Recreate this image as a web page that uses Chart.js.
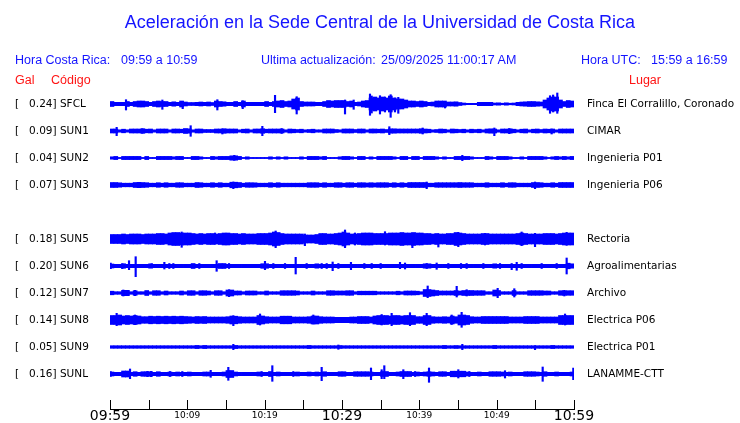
<!DOCTYPE html>
<html><head><meta charset="utf-8">
<script src="https://cdn.jsdelivr.net/npm/chart.js@4.4.1/dist/chart.umd.min.js"></script>
<style>
html,body{margin:0;padding:0;background:#fff;}
#wrap{position:relative;width:740px;height:423px;overflow:hidden;background:#fff;}
#c{position:absolute;left:0;top:0;}
.t{position:absolute;white-space:pre;font-family:"Liberation Sans",Arial,sans-serif;line-height:1;}
.b{color:#1414ff;font-size:12.5px;}
.r{color:#ff1414;font-size:12.5px;}
</style></head><body>
<div id="wrap">
<canvas id="c" width="740" height="423"></canvas>
<div class="t" style="left:0;width:760px;text-align:center;top:13px;font-size:18px;color:#1414ff">Aceleración en la Sede Central de la Universidad de Costa Rica</div>
<div class="t b" style="left:15px;top:54px">Hora Costa Rica:</div>
<div class="t b" style="left:121px;top:54px">09:59 a 10:59</div>
<div class="t b" style="left:261px;top:54px">Ultima actualización:</div>
<div class="t b" style="left:381px;top:54px">25/09/2025 11:00:17 AM</div>
<div class="t b" style="left:581px;top:54px">Hora UTC:</div>
<div class="t b" style="left:651px;top:54px">15:59 a 16:59</div>
<div class="t r" style="left:15px;top:74px">Gal</div>
<div class="t r" style="left:51px;top:74px">Código</div>
<div class="t r" style="left:629px;top:74px">Lugar</div>
</div>
<script>
// ---- data ----
const tickLabels = ['09:59','10:09','10:19','10:29','10:39','10:49','10:59'];
const codes  = ['SFCL','SUN1','SUN2','SUN3','SUN5','SUN6','SUN7','SUN8','SUN9','SUNL'];
const gal    = ['0.24','0.09','0.04','0.07','0.18','0.20','0.12','0.14','0.05','0.16'];
const places = ['Finca El Corralillo, Coronado','CIMAR','Ingenieria P01','Ingenieria P06','Rectoria','Agroalimentarias','Archivo','Electrica P06','Electrica P01','LANAMME-CTT'];
const rowIndex = [0,1,2,3,5,6,7,8,9,10];

// half-amplitude envelopes, one value per 30 s
const env_SFCL = [2.5,1.7,1.7,1.7,2.5,1.7,2.5,3,3,2.5, 1.7,2.5,3,2.5,2.5,1.7,2.2,1.7,3,2, 1.5,1.5,1.7,2,1.7,2,1.5,3,2.5,2.2, 1.7,1.7,2.5,1.7,3,1.7,1.7,1.7,1.7,1.7, 2.5,1.7,2.5,3,3.5,2.5,3,5,6,2.5, 2,2,2,1.7,1.7,2.5,3.5,3,3.5,3.5, 3.5,2.5,3,1.7,2,3,3.5,6,7,6, 7,6,8,6,5,5,4,3,3,2.5, 3,2.5,1.7,2,3,3,3,2,2,2.2, 1.5,1,0.7,0.7,0.7,1.7,1.7,1.7,1.7,1, 1.2,0.8,1.2,0.8,1,1.7,2,2.2,2.5,2.5, 2.2,2,4,6,7,7,4,2.5,3.5,3];
const env_SUN1 = [2,2,1.2,1.8,1.2,2,2,2,2.3,1.8, 2,1.2,2,2,2,1.2,2,2,1.8,2.5, 2.2,1.2,2,2,1.5,1.5,1.5,2,2,2.3, 2,2,2,1.2,1.8,2,1.2,2,2,2.3, 1.8,2,2,2,2,1.2,2,1.8,1.5,1.8, 1.2,1.5,1.8,1.2,1.2,2,2,2,1.5,1.2, 2,2,2,1.5,2,2,1.2,2,2,1.8, 2,1.5,2.2,2.2,2,2,2,2,2,2, 2.3,2,1.8,1.2,1.5,2,1.8,1.2,2,1.8, 1.5,1.8,1.2,1.8,1.5,1.8,1.2,2,2.2,2, 1.2,2,2,2.2,1.8,1.2,1.8,2,1.2,1.8, 2,1.5,2,1.8,2,1.2,2,2,2,2];
const env_SUN2 = [1.2,1.6,0.6,1.6,1.6,1.6,1.6,1.6,0.6,1.6, 0.6,0.6,1.6,1.6,1.6,1.6,1.2,1.6,1.6,0.6, 0.6,1.6,1.6,1.2,0.6,0.6,1.6,1.2,1.6,1.6, 1.6,2.2,2.2,1.6,0.6,1.2,0.6,0.6,0.6,0.6, 0.6,1.2,0.6,1.2,0.6,1.2,0.6,0.6,0.6,1.2, 0.6,1.6,1.6,1.6,1.2,1.6,0.6,0.6,0.6,1.2, 1.6,1.6,1.2,0.6,1.6,1.6,0.6,1.2,0.6,1.6, 1.6,1.6,1.6,1.2,0.6,1.6,1.6,0.6,1.6,1.6, 0.6,1.6,1.6,1.6,1.2,0.6,1.2,0.6,0.6,1.6, 1.6,1.6,1.6,1.2,0.6,0.6,0.6,1.6,1.2,0.6, 1.6,1.6,1.6,1.2,0.6,0.6,1.2,0.6,1.6,1.6, 1.6,1.6,1.2,0.6,1.2,1.6,1.2,1.6,1.2,1.6];
const env_SUN3 = [2.5,2.5,2.2,1.8,1.8,1.8,2.5,2.7,2.5,2.3, 1.8,1.8,2.3,1.8,2.3,1.8,1.8,2.3,2.3,1.8, 1.8,1.8,2.5,2.3,1.8,1.8,2.3,1.8,2.3,1.8, 1.8,2.8,2.8,2.5,1.8,2.3,2.3,2.2,1.8,1.8, 1.8,2.3,1.8,2.3,1.8,1.8,1.8,1.8,1.8,1.8, 1.8,2.3,2.3,2.3,1.8,2.3,1.8,1.8,2.3,2.3, 1.8,2.3,2.3,1.8,2.3,2.3,2,2.3,2,2.3, 2.3,2.3,1.8,2.3,1.8,2.3,1.8,2.5,2.5,2.5, 2.5,2.5,1.8,1.8,2.3,2.3,2.3,2.3,2.3,2.3, 2.5,2.3,2.3,2.3,1.8,1.8,1.8,2.3,1.8,1.8, 1.8,2.3,1.8,2.3,2.3,1.8,1.8,1.8,1.8,2.5, 2.5,2.3,1.8,1.8,2.3,1.8,2.5,2.5,2.5,2.5];
const env_SUN5 = [4.5,4.5,4.5,5,4.5,5,5,5,4.5,5, 5,5,5.5,5.5,5,6,6.5,6.5,6,6, 6,5.5,5,5.5,5,5.5,5.5,5,5.5,6, 6,5.5,5.5,5,5.5,5,5,5,5.5,5.5, 5.5,6,7,6.5,5.5,5,5,5,5,5, 4,4,4,4.5,5.5,5.5,5,5,5.5,6, 7,6,5,5,5.5,6,6,6,5.5,5.5, 5.5,5.5,6,6,6,6.5,6,6,6.5,6, 6,5.5,5.5,5,5.5,5,5,5.5,5.5,6.5, 6,5.5,5,5,5,5,5.5,5.5,5,5, 5,5,5,5,5,5.5,6,5.5,5,5, 5,5,5.5,5.5,5.5,5,5.5,6,6,6];
const env_SUN6 = [2,1.7,1.7,2.3,1.7,1.7,1.7,1.7,1.7,1.7, 2.2,1.7,1.7,1.7,1.7,1.7,1.7,1.7,1.7,1.7, 1.7,2.5,1.7,1.7,1.7,1.7,1.7,1.7,2.5,2.5, 1.7,1.7,1.7,1.7,1.7,1.7,1.7,1.7,1.7,2.3, 2.3,1.7,1.7,1.7,1.7,1.7,1.7,1.7,1.7,1.7, 1.7,1.7,1.7,2.2,1.7,1.7,1.7,1.7,1.7,1.7, 1.7,1.7,1.7,1.7,1.7,1.7,1.7,1.7,1.7,1.7, 1.7,1.7,1.7,1.7,1.7,1.7,1.7,1.7,1.7,1.7, 1.7,2.2,2.2,1.7,1.7,1.7,1.7,1.7,1.7,1.7, 1.7,1.7,1.7,1.7,1.7,1.7,1.7,1.7,1.7,2.2, 1.7,1.7,1.7,1.7,1.7,1.7,1.7,1.7,1.7,1.7, 1.7,1.7,1.7,1.7,1.7,1.7,1.7,1.7,2.8,2.2];
const env_SUN7 = [1.8,1.3,1.3,2.7,2.7,1.3,2.3,1.3,1.3,2.5, 1.3,2.3,2.3,1.3,2,1.3,1.3,1.3,2,1.3, 2.3,2.3,1.3,2.3,2.3,2,1.3,2.3,2.3,1.3, 3,3,2,2,1.3,2,2,2,1.3,1.3, 2,1.3,1.3,1.3,2.3,2.3,2.3,2.3,2,1.3, 1.3,1.3,2,1.3,1.3,1.3,2.3,2.3,2,2, 2,2.3,2.3,1.3,1.8,1.8,1.8,1.8,1.8,1.3, 1.3,1.3,1.3,1.3,1.8,1.3,2,2,2,1.8, 1.3,3.5,3.5,3,2.5,2,2,2,2,2.5, 2,2.5,2.5,2.5,2.3,2.3,2.3,1.3,1.3,3, 2.5,1.3,1.3,1.3,2.5,1.3,1.3,1.3,2.3,2.3, 2.3,2.3,2,2,1.3,1.3,2.3,2.3,2.3,2.3];
const env_SUN8 = [4.5,4.5,5,4,4.5,4,4.5,4,3.3,3.3, 3.8,3.5,3.8,3.5,3.8,3.5,3.8,3.5,3.8,3.5, 3.3,3,3.5,3.3,3.5,3,3,3,3,3, 3.3,4,3.8,3.3,3,3,3,3,4.5,4, 3.3,3,3,3,3.8,3.8,3.8,3,3,3, 3,3.3,4,4,3.3,3,3,3,2.7,2.7, 2.7,2.7,3,3,3.5,3.5,3.5,3,4,4.5, 4.5,4.5,4,4.5,4.5,4,4.5,4.5,4.5,3.3, 3.3,4.5,4.5,3.3,3,3,3.3,3,4,3.3, 5,5,4.5,3.3,3,3,3.5,3.5,3.5,3.5, 3.5,3.5,3.5,3,3,3,3,3.5,3.5,3.5, 3.5,3,3,3,3,3,4.5,4.5,4.5,4.5];
const env_SUN9 = [1.3,1.3,1.3,1.3,1.3,1.3,1.3,1.3,1.3,1.3, 1.3,1.3,1.3,1.3,1.3,1.3,1.3,1.3,1.3,1.3, 1.3,1.3,1.6,1.3,1.6,1.3,1.3,1.3,1.3,1.3, 1.3,1.3,1.6,1.3,1.3,1.3,1.3,1.3,1.3,1.3, 1.3,1.3,1.3,1.3,1.3,1.3,1.3,1.3,1.3,1.3, 1.3,1.6,1.3,1.3,1.3,1.3,1.3,1.3,1.3,1.5, 1.3,1.3,1.3,1.3,1.3,1.3,1.3,1.3,1.3,1.3, 1.3,1.3,1.3,1.3,1.3,1.3,1.3,1.3,1.3,1.3, 1.3,1.3,1.3,1.3,1.3,1.3,1.6,1.3,1.3,1.5, 1.3,1.3,1.3,1.3,1.3,1.3,1.3,1.3,1.3,1.6, 1.3,1.3,1.3,1.3,1.3,1.3,1.3,1.3,1.3,1.3, 1.3,1.3,1.3,1.3,1.6,1.3,1.3,1.3,1.3,1.3];
const env_SUNL = [2,1.7,1.7,3,3,1.7,2.3,1.7,2.3,2.3, 2.3,1.7,2.3,1.7,1.7,2,1.7,2,1.7,1.7, 2,1.7,1.7,1.7,2,2,1.7,1.7,1.7,2, 3.5,3.5,2,1.7,1.7,1.7,1.7,1.7,2,1.7, 1.7,2.5,1.7,2,1.7,1.7,1.7,1.7,2,1.7, 1.7,2,1.7,2,1.7,2.3,1.7,1.7,1.7,2.3, 2.3,1.7,1.7,2.3,2.3,2.3,2.3,2,1.7,1.7, 2.5,2.5,1.7,1.7,2,2.5,2.5,2.5,1.7,2, 1.7,2,2.3,2,1.7,2.3,2.3,1.7,2.8,2.8, 2.8,2.8,2,1.7,1.7,2,1.7,1.7,2.3,2.3, 2.3,2,1.7,2,1.7,1.7,1.7,2.3,2.3,2.3, 2,1.7,2.3,1.7,1.7,2,1.7,1.7,1.7,2];

// narrow spikes: [minute, up, down]
const spk_SFCL = [[2.07,4.3,6],[6.77,4,5.3],[9.40,2.7,4.7],[13.88,4.3,6],[17.16,3.3,4.7],[21.34,8.7,8.7],[24.14,7.3,10],[30.39,4,10],[31.51,4,5.3],[33.62,10,11.3],[33.84,8,9],[34.91,8.3,10],[35.56,7,8],[36.29,9.3,13.3],[36.85,6,8],[37.28,6.7,9.3],[43.32,1.7,4],[56.90,8.3,9.3],[57.30,9,8],[57.84,11,9.3]];
const spk_SUN1 = [[0.86,3.7,4.7],[4.18,2.3,2.3],[10.43,5.3,5.3],[14.53,2,3],[19.70,4.7,4.7],[22.2,2.5,2.5],[36.12,4.3,3.7],[40.43,3,3],[49.70,3,4.7],[51.64,2.5,2.7],[57.11,2,3]];
const spk_SUN2 = [[16.08,2.7,2.3],[45.56,2.7,2.7]];
const spk_SUN3 = [[15.95,3,3.7],[40.95,3,3.7],[54.96,3,3.7]];
const spk_SUN5 = [[9.27,7,8.3],[13.58,6,5.3],[21.42,8,8.7],[25.2,5,6.7],[30.39,9,8.7],[31.68,6,6],[35.56,7.3,6],[39.1,5.3,8.7],[42.46,5,8],[45.04,6.7,7.7],[48.49,5.7,6],[53.23,7,6.7],[54.96,5.7,7.7],[59.05,6.7,6.3]];
const spk_SUN6 = [[0.09,3,2.7],[1.59,2.3,2.7],[2.46,5.3,3.7],[3.32,9.3,10.7],[5.39,2.3,1.3],[7.03,3.7,3],[7.67,2.5,2.5],[8.19,2.5,2.5],[11.55,2.5,2.5],[13.79,5.3,5.3],[15.39,2.5,2.5],[20.04,4.7,3.7],[21.12,2.5,2.5],[22.63,2.5,2.5],[24.01,8.7,8],[25.43,2.5,2.5],[27.37,2.5,2.5],[28.02,2.5,2.5],[28.79,4,4.7],[29.53,2.5,2.5],[31.16,3.7,3.7],[32.89,2.5,2.5],[33.84,2.5,2.5],[35.0,2.5,2.5],[37.5,3.7,2.7],[38.15,3,3],[40.95,2.5,2.5],[42.24,3,3.3],[43.75,2.5,2.5],[45.39,2.5,2.5],[46.12,2.5,2.5],[48.28,2.5,2.5],[50.43,2.5,2.5],[51.94,2.5,3.7],[52.59,3.7,4.3],[53.23,2.5,2.5],[55.82,2.5,2.5],[57.76,2.5,2.5],[59.05,8,8]];
const spk_SUN7 = [[1.72,3,3],[3.23,2.7,2.7],[15.39,3.3,3.7],[41.08,7,4.7],[44.83,6.7,4],[46.12,3.3,3],[50.13,4.7,4.7],[52.28,4.3,4],[58.75,2.7,3]];
const spk_SUN8 = [[0.86,6.7,5.7],[3.23,5,4.7],[15.95,4.3,5.7],[19.4,6,5],[26.29,5,4],[35.13,5.5,5],[36.42,6.7,5.7],[38.79,7.3,5.7],[40.95,6.7,5.7],[44.18,5,4.5],[45.47,7.7,7.3],[58.84,6,5]];
const spk_SUN9 = [[15.95,2.7,2.7],[29.53,2,2.3],[45.56,2.7,2.7],[54.96,1.3,2.7]];
const spk_SUNL = [[0.09,2.5,2.5],[2.59,5,4.7],[4.83,2.7,2.7],[5.3,2.7,2.7],[7.76,2.5,2.5],[9.35,2.5,2.5],[13.02,3.7,3.3],[15.3,6.7,6.3],[19.61,2.5,2.5],[20.99,8.3,7.3],[23.71,2.5,2.5],[27.37,6.7,6.7],[33.75,6,5.7],[35.13,4.3,4.7],[35.47,8.3,4.7],[37.93,4.3,4.7],[39.44,2.5,2.5],[41.25,6,8.3],[45.04,4.3,4],[46.47,2.5,2.5],[51.08,3.3,4],[55.95,7,7.3],[59.91,6,5.7]];

// ---- build ----
const envs = [env_SFCL,env_SUN1,env_SUN2,env_SUN3,env_SUN5,env_SUN6,env_SUN7,env_SUN8,env_SUN9,env_SUNL];
const spks = [spk_SFCL,spk_SUN1,spk_SUN2,spk_SUN3,spk_SUN5,spk_SUN6,spk_SUN7,spk_SUN8,spk_SUN9,spk_SUNL];
const BIN = 0.5, ROW0 = 18, ROWH = 27, YMAX = 323;
const BLUE = '#0000ff';
const center = r => ROW0 + ROWH * r;

const datasets = [];
envs.forEach((env, k) => {
  const c = center(rowIndex[k]);
  datasets.push({
    data: env.map((a, i) => ({x: (i + 0.5) * BIN, y: [c - a, c + a]})),
    backgroundColor: BLUE, borderWidth: 0, barThickness: 4, grouped: false
  });
  datasets.push({
    data: spks[k].map(s => ({x: s[0], y: [c - s[1], c + s[2]]})),
    backgroundColor: BLUE, borderWidth: 0, barThickness: 1.5, grouped: false
  });
});

const rowTicks = s => { s.ticks = rowIndex.map(r => ({value: center(r)})); };
const rowOf = v => rowIndex.findIndex(r => center(r) === v);
const noPad = (s, prop, size) => {
  s[prop] = size;
  s.paddingTop = 0; s.paddingBottom = 0; s.paddingLeft = 0; s.paddingRight = 0;
};

const upTicks = {
  id: 'upTicks',
  afterDraw(chart) {
    const s = chart.scales.x, ctx = chart.ctx, b = chart.chartArea.bottom;
    ctx.save();
    ctx.strokeStyle = '#000'; ctx.lineWidth = 1;
    s.ticks.forEach((t, i) => {
      const x = Math.round(s.getPixelForTick(i)) + 0.5;
      ctx.beginPath(); ctx.moveTo(x, b - 9); ctx.lineTo(x, b); ctx.stroke();
    });
    ctx.restore();
  }
};

new Chart(document.getElementById('c'), {
  type: 'bar',
  data: {datasets},
  plugins: [upTicks],
  options: {
    responsive: false, animation: false, devicePixelRatio: 1,
    layout: {padding: {left: 15, right: 0, top: 86, bottom: 0}},
    plugins: {legend: {display: false}, tooltip: {enabled: false}, title: {display: false}},
    scales: {
      x: {
        type: 'linear', min: 0, max: 60, offset: false,
        grid: {display: false, drawTicks: false},
        border: {display: true, color: '#000', width: 1},
        afterFit: s => noPad(s, 'height', 14),
        ticks: {
          stepSize: 5, autoSkip: false, maxRotation: 0, padding: 0, crossAlign: 'near',
          color: '#000',
          font: ctx => (ctx.tick && ctx.tick.value % 30 === 0)
            ? {family: 'DejaVu Sans', size: 14, lineHeight: 15 / 14}
            : {family: 'DejaVu Sans', size: 9, lineHeight: 13 / 9},
          callback: v => (v % 10 === 0 ? tickLabels[v / 10] : '')
        }
      },
      y: {
        type: 'linear', position: 'left', reverse: true, min: 0, max: YMAX,
        grid: {display: false, drawTicks: false}, border: {display: false},
        afterBuildTicks: rowTicks,
        afterFit: s => noPad(s, 'width', 95),
        ticks: {
          crossAlign: 'far', padding: 0, color: '#000',
          font: {family: 'DejaVu Sans', size: 10.5},
          callback: v => { const k = rowOf(v); return k < 0 ? '' : '[   ' + gal[k] + '] ' + codes[k]; }
        }
      },
      y2: {
        type: 'linear', position: 'right', reverse: true, min: 0, max: YMAX,
        grid: {display: false, drawTicks: false}, border: {display: false},
        afterBuildTicks: rowTicks,
        afterFit: s => noPad(s, 'width', 166),
        ticks: {
          crossAlign: 'near', padding: 13, color: '#000',
          font: {family: 'DejaVu Sans', size: 10.5},
          callback: v => { const k = rowOf(v); return k < 0 ? '' : places[k]; }
        }
      }
    }
  }
});
</script>
</body></html>
